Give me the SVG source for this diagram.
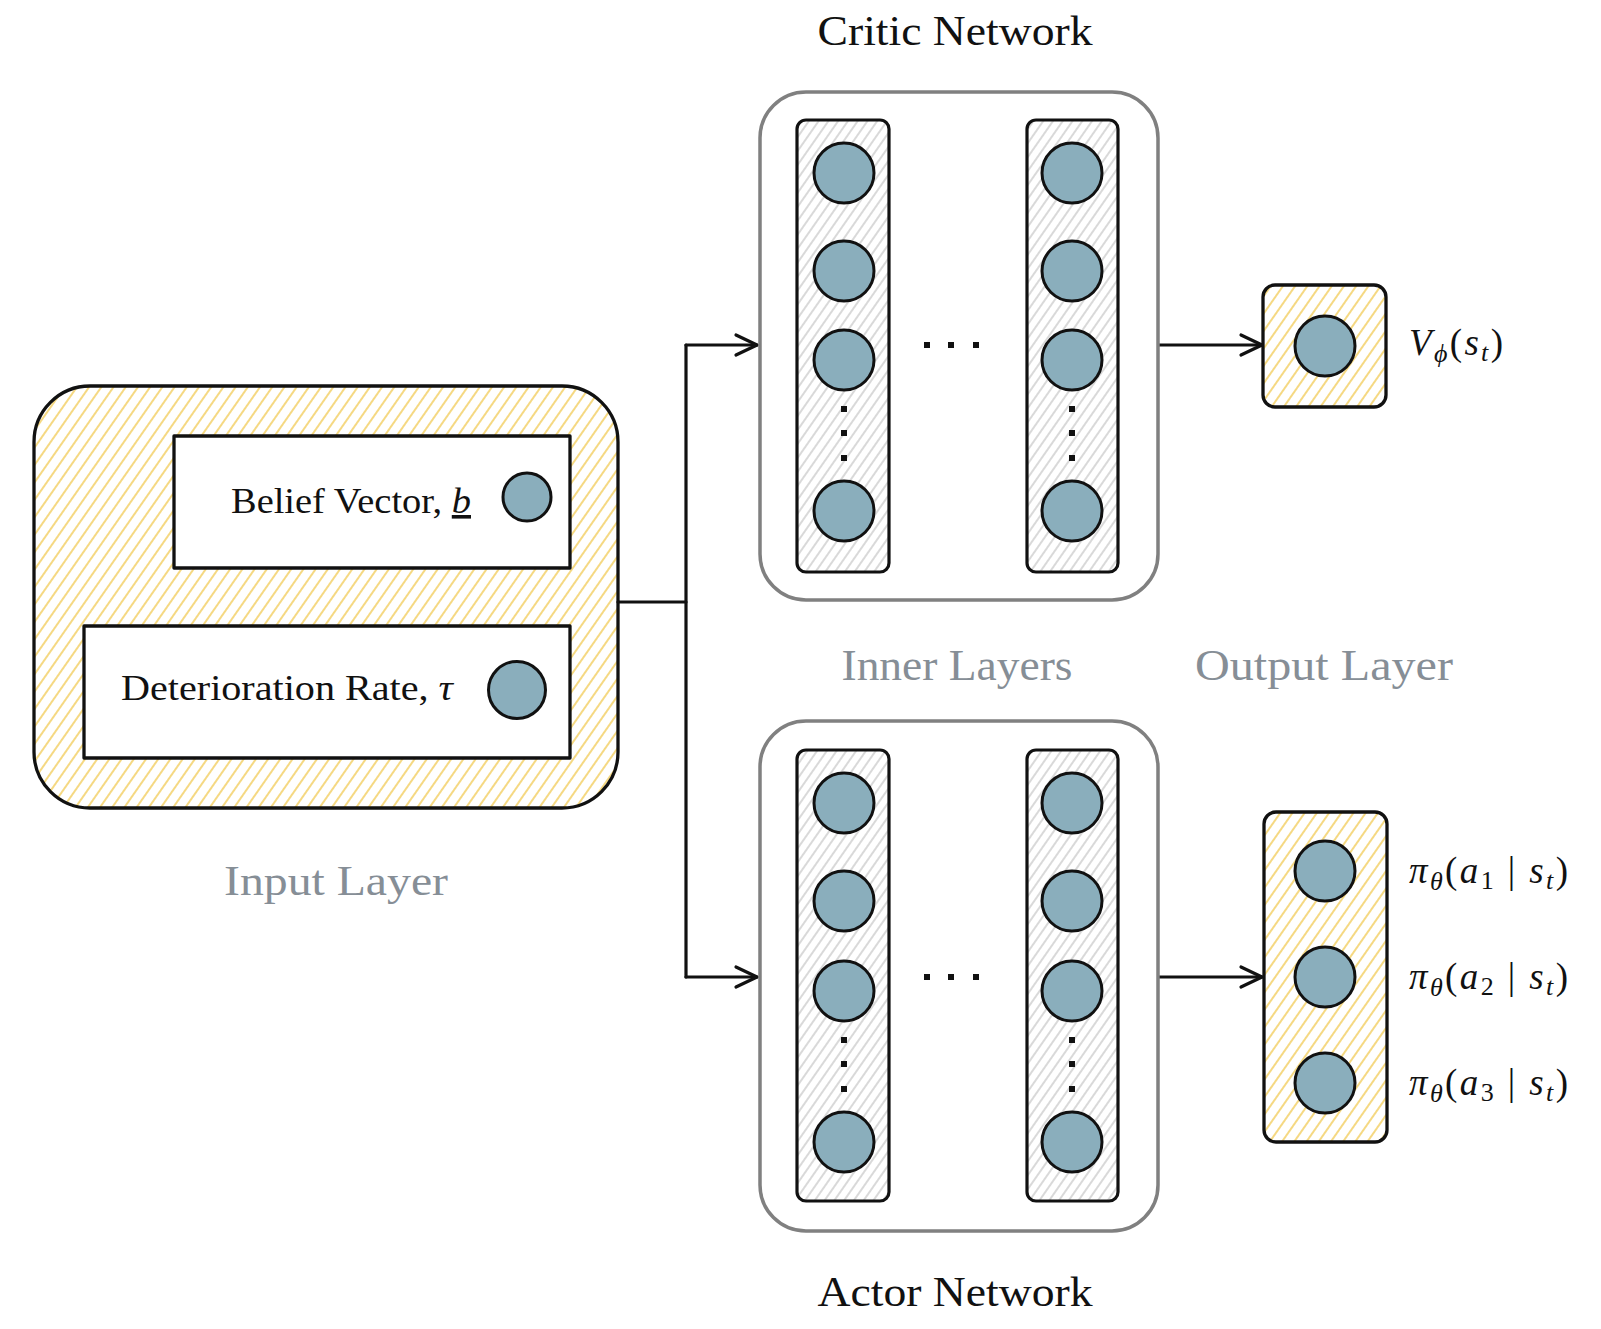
<svg xmlns="http://www.w3.org/2000/svg" width="1601" height="1329" viewBox="0 0 1601 1329">
<style>
.lbl{font-family:"Liberation Serif","DejaVu Serif",serif;fill:#111}
.gray{font-family:"Liberation Serif","DejaVu Serif",serif;fill:#868e96}
.math{font-family:"Liberation Serif","DejaVu Serif",serif;fill:#111;font-size:37px}
.it{font-style:italic}
.box{stroke:#111;stroke-width:3.3;stroke-linejoin:round}
.net{fill:#fff;stroke:#808080;stroke-width:3.5}
.col{fill:url(#hatchG);stroke:#111;stroke-width:3.2}
.node{fill:#8aaebc;stroke:#111;stroke-width:3}
.dot{fill:#111}
.conn{fill:none;stroke:#111;stroke-width:3.2;stroke-linecap:round;stroke-linejoin:round}
</style>
<defs>
<pattern id="hatchY" width="10" height="10" patternUnits="userSpaceOnUse" patternTransform="rotate(35)">
<line x1="5" y1="-1" x2="5" y2="11" stroke="#f3cf63" stroke-width="1.6"/>
</pattern>
<pattern id="hatchG" width="8" height="8" patternUnits="userSpaceOnUse" patternTransform="rotate(35)">
<line x1="4" y1="-1" x2="4" y2="9" stroke="#c4c4c4" stroke-width="1.3"/>
</pattern>
<marker id="arr" viewBox="-24 -13 28 26" refX="0" refY="0" markerWidth="28" markerHeight="26" markerUnits="userSpaceOnUse" orient="auto">
<path d="M-21,-10 L0,0 L-21,10" fill="none" stroke="#111" stroke-width="3.2" stroke-linecap="round" stroke-linejoin="round"/>
</marker>
</defs>
<rect width="1601" height="1329" fill="#fff"/>

<g id="connectors">
<path class="conn" d="M618,602 L686,602"/>
<path class="conn" d="M686,345 L686,977"/>
<path class="conn" d="M686,345 L757,345" marker-end="url(#arr)"/>
<path class="conn" d="M686,977 L757,977" marker-end="url(#arr)"/>
<path class="conn" d="M1158,345 L1262,345" marker-end="url(#arr)"/>
<path class="conn" d="M1158,977 L1262,977" marker-end="url(#arr)"/>
</g>

<g id="input-layer">
<rect class="box" x="34" y="386" width="584" height="422" rx="56" fill="url(#hatchY)"/>
<text class="gray" x="336" y="895" font-size="42" text-anchor="middle" textLength="224" lengthAdjust="spacingAndGlyphs">Input Layer</text>
</g>
<g id="belief-vector">
<rect class="box" x="174" y="436" width="396" height="132" fill="#fff" stroke-width="3.5"/>
<text class="lbl" x="231" y="513" font-size="36" textLength="240" lengthAdjust="spacingAndGlyphs">Belief Vector, <tspan class="it" text-decoration="underline">b</tspan></text>
<circle class="node" cx="527" cy="497" r="24"/>
</g>
<g id="deterioration-rate">
<rect class="box" x="84" y="626" width="486" height="132" fill="#fff" stroke-width="3.5"/>
<text class="lbl" x="121" y="700" font-size="36" textLength="332" lengthAdjust="spacingAndGlyphs">Deterioration Rate, <tspan class="it">τ</tspan></text>
<circle class="node" cx="517" cy="690" r="28.5"/>
</g>

<g id="critic-network">
<text class="lbl" x="955" y="45" font-size="42" text-anchor="middle" textLength="275" lengthAdjust="spacingAndGlyphs">Critic Network</text>
<rect class="net" x="760" y="92" width="398" height="508" rx="46"/>
<rect class="col" x="797" y="120" width="92" height="452" rx="9"/>
<rect class="col" x="1027" y="120" width="91" height="452" rx="9"/>
<circle class="node" cx="844" cy="173" r="30"/>
<circle class="node" cx="844" cy="271" r="30"/>
<circle class="node" cx="844" cy="360" r="30"/>
<circle class="node" cx="844" cy="511" r="30"/>
<circle class="node" cx="1072" cy="173" r="30"/>
<circle class="node" cx="1072" cy="271" r="30"/>
<circle class="node" cx="1072" cy="360" r="30"/>
<circle class="node" cx="1072" cy="511" r="30"/>
<rect class="dot" x="841" y="406" width="6" height="6"/>
<rect class="dot" x="841" y="430" width="6" height="6"/>
<rect class="dot" x="841" y="455" width="6" height="6"/>
<rect class="dot" x="1069" y="406" width="6" height="6"/>
<rect class="dot" x="1069" y="430" width="6" height="6"/>
<rect class="dot" x="1069" y="455" width="6" height="6"/>
<rect class="dot" x="924" y="342" width="6" height="6"/>
<rect class="dot" x="948" y="342" width="6" height="6"/>
<rect class="dot" x="973" y="342" width="6" height="6"/>
</g>

<g id="inner-layers-label">
<text class="gray" x="957" y="680" font-size="44" text-anchor="middle" textLength="231" lengthAdjust="spacingAndGlyphs">Inner Layers</text>
</g>
<g id="output-layer-label">
<text class="gray" x="1324" y="680" font-size="44" text-anchor="middle" textLength="258" lengthAdjust="spacingAndGlyphs">Output Layer</text>
</g>

<g id="actor-network">
<rect class="net" x="760" y="721" width="398" height="510" rx="46"/>
<rect class="col" x="797" y="750" width="92" height="451" rx="9"/>
<rect class="col" x="1027" y="750" width="91" height="451" rx="9"/>
<circle class="node" cx="844" cy="803" r="30"/>
<circle class="node" cx="844" cy="901" r="30"/>
<circle class="node" cx="844" cy="991" r="30"/>
<circle class="node" cx="844" cy="1142" r="30"/>
<circle class="node" cx="1072" cy="803" r="30"/>
<circle class="node" cx="1072" cy="901" r="30"/>
<circle class="node" cx="1072" cy="991" r="30"/>
<circle class="node" cx="1072" cy="1142" r="30"/>
<rect class="dot" x="841" y="1037" width="6" height="6"/>
<rect class="dot" x="841" y="1061" width="6" height="6"/>
<rect class="dot" x="841" y="1086" width="6" height="6"/>
<rect class="dot" x="1069" y="1037" width="6" height="6"/>
<rect class="dot" x="1069" y="1061" width="6" height="6"/>
<rect class="dot" x="1069" y="1086" width="6" height="6"/>
<rect class="dot" x="924" y="974" width="6" height="6"/>
<rect class="dot" x="948" y="974" width="6" height="6"/>
<rect class="dot" x="973" y="974" width="6" height="6"/>
<text class="lbl" x="955" y="1306" font-size="42" text-anchor="middle" textLength="275" lengthAdjust="spacingAndGlyphs">Actor Network</text>
</g>

<g id="critic-output">
<rect class="box" x="1263" y="285" width="123" height="122" rx="12" fill="url(#hatchY)"/>
<circle class="node" cx="1325" cy="346" r="30"/>
<text class="math" x="1409" y="355" textLength="94" lengthAdjust="spacing"><tspan class="it">V</tspan><tspan class="it" font-size="26" dy="7">ϕ</tspan><tspan dy="-7">(</tspan><tspan class="it">s</tspan><tspan class="it" font-size="26" dy="6">t</tspan><tspan dy="-6">)</tspan></text>
</g>

<g id="actor-output">
<rect class="box" x="1264" y="812" width="123" height="330" rx="12" fill="url(#hatchY)"/>
<circle class="node" cx="1325" cy="871" r="30"/>
<circle class="node" cx="1325" cy="977" r="30"/>
<circle class="node" cx="1325" cy="1083" r="30"/>
<text class="math" x="1409" y="883" textLength="159" lengthAdjust="spacing"><tspan class="it">π</tspan><tspan class="it" font-size="26" dy="7">θ</tspan><tspan dy="-7">(</tspan><tspan class="it">a</tspan><tspan font-size="26" dy="6">1</tspan><tspan dy="-6"> | </tspan><tspan class="it">s</tspan><tspan class="it" font-size="26" dy="6">t</tspan><tspan dy="-6">)</tspan></text>
<text class="math" x="1409" y="989" textLength="159" lengthAdjust="spacing"><tspan class="it">π</tspan><tspan class="it" font-size="26" dy="7">θ</tspan><tspan dy="-7">(</tspan><tspan class="it">a</tspan><tspan font-size="26" dy="6">2</tspan><tspan dy="-6"> | </tspan><tspan class="it">s</tspan><tspan class="it" font-size="26" dy="6">t</tspan><tspan dy="-6">)</tspan></text>
<text class="math" x="1409" y="1095" textLength="159" lengthAdjust="spacing"><tspan class="it">π</tspan><tspan class="it" font-size="26" dy="7">θ</tspan><tspan dy="-7">(</tspan><tspan class="it">a</tspan><tspan font-size="26" dy="6">3</tspan><tspan dy="-6"> | </tspan><tspan class="it">s</tspan><tspan class="it" font-size="26" dy="6">t</tspan><tspan dy="-6">)</tspan></text>
</g>
</svg>
